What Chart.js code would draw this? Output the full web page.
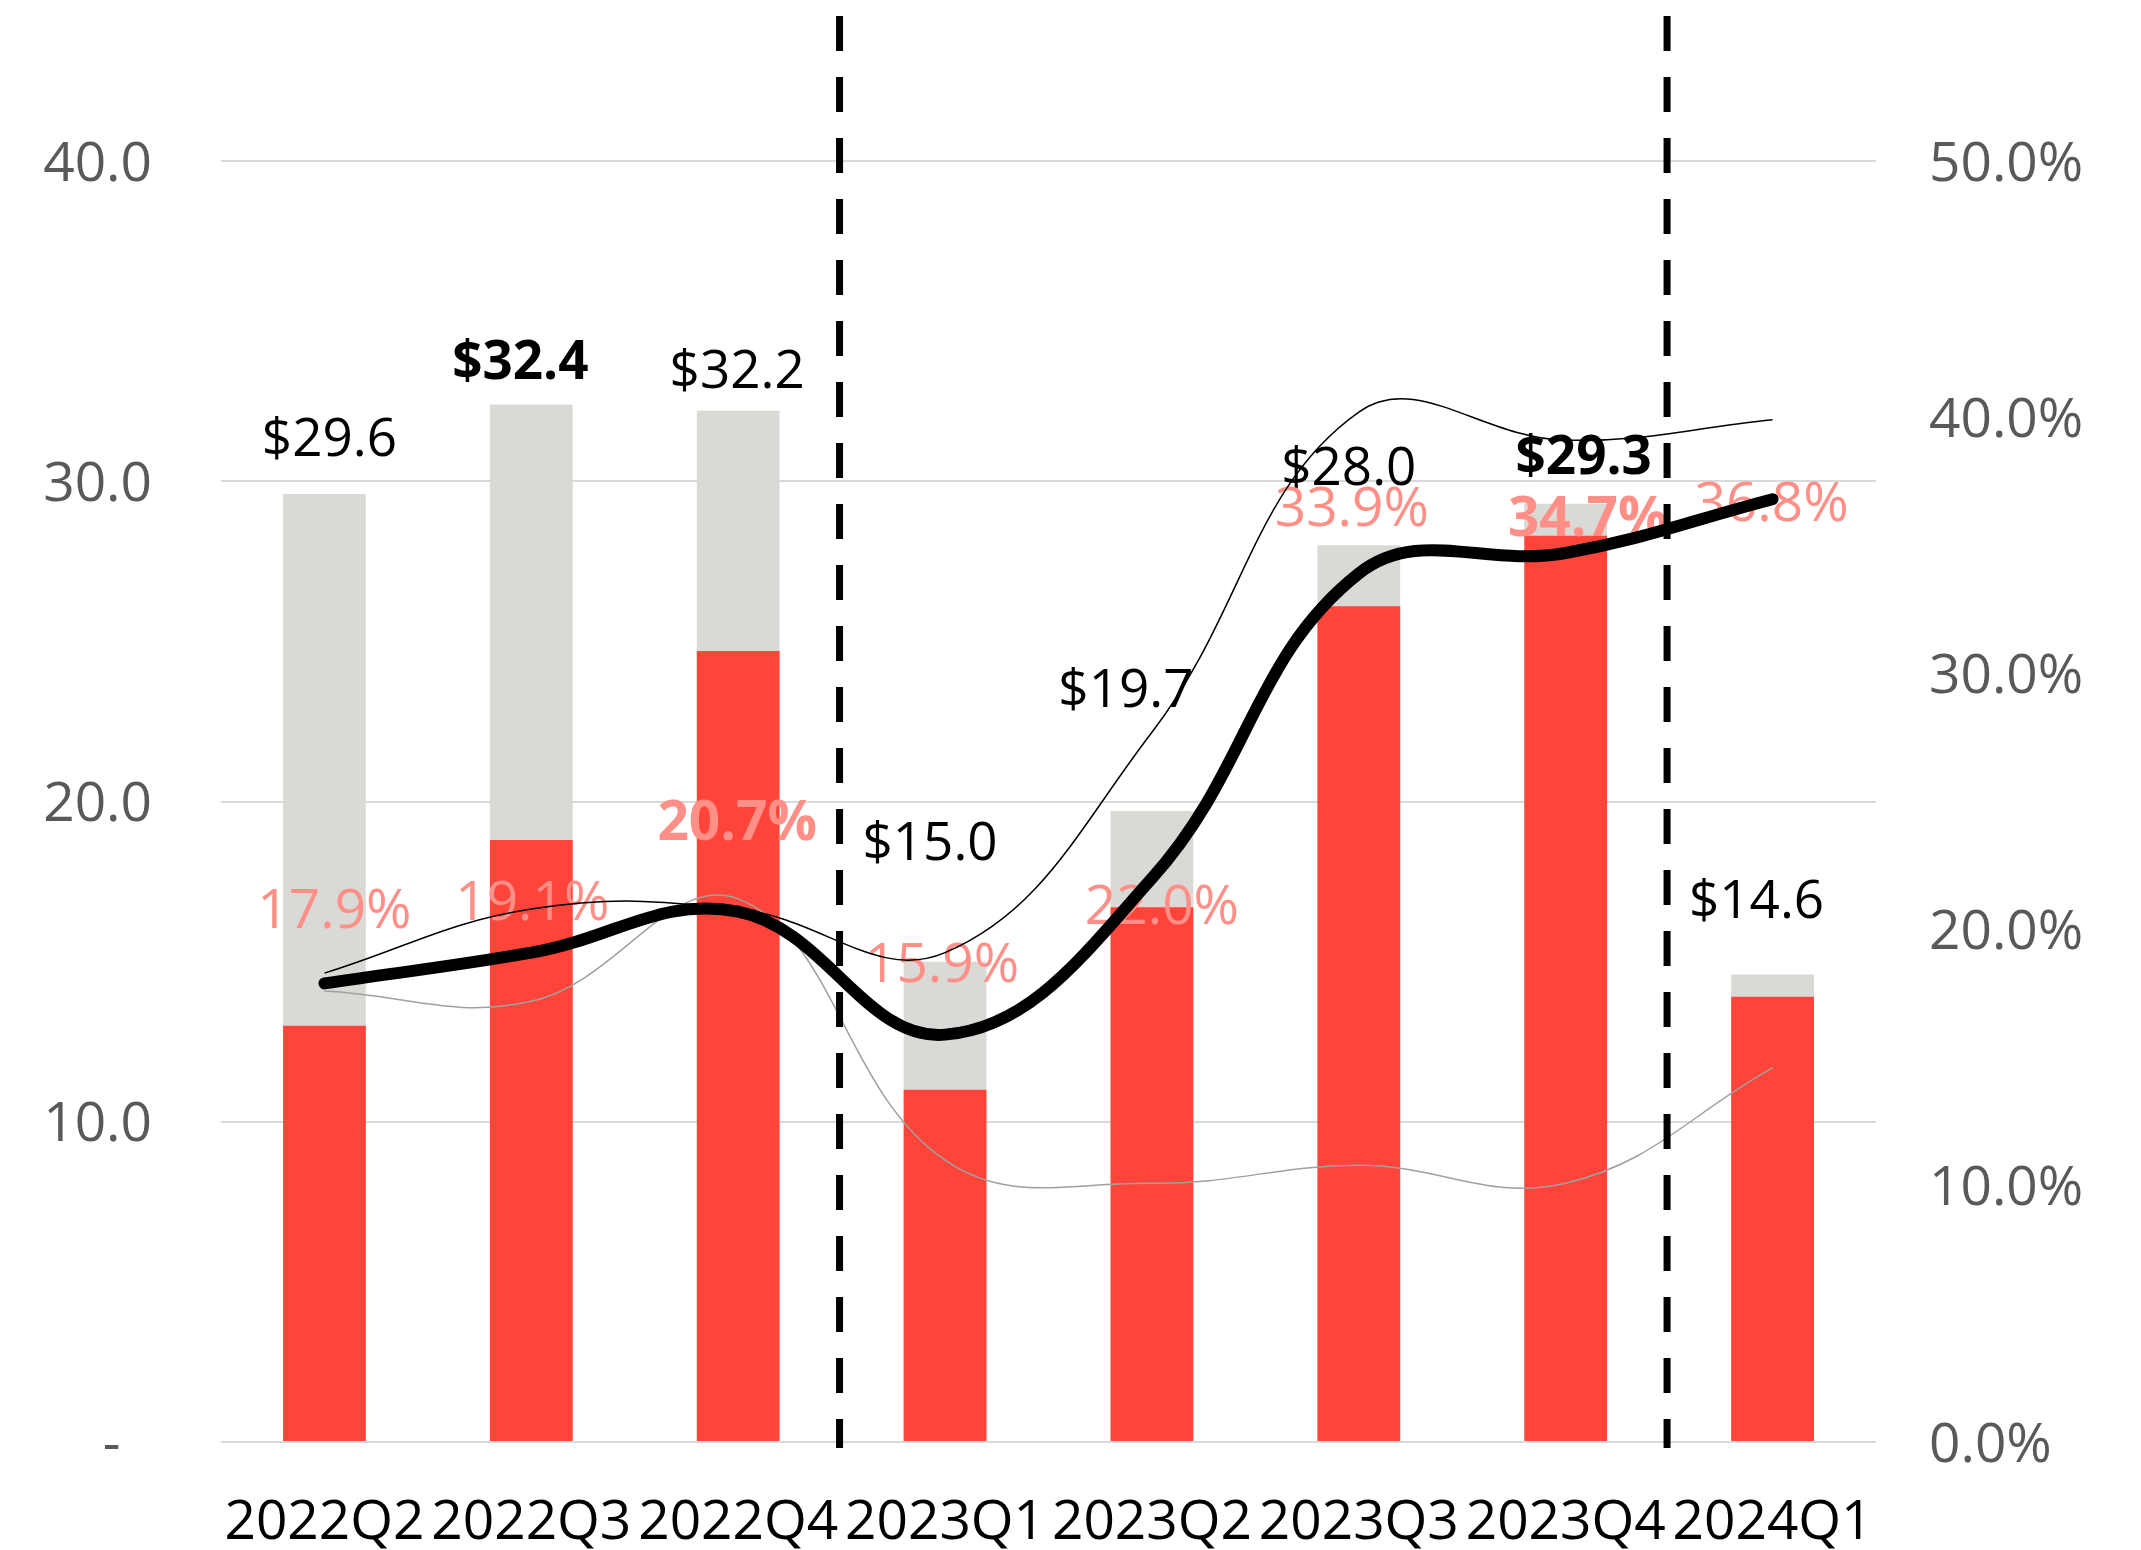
<!DOCTYPE html>
<html>
<head>
<meta charset="utf-8">
<script src="https://cdn.jsdelivr.net/npm/chart.js@4.4.1/dist/chart.umd.min.js"></script>
<style>
  body { margin: 0; background: #fff; }
  canvas { display: block; }
</style>
</head>
<body>
<canvas id="mycanvas" width="2141" height="1550"></canvas>
<script>
var quarters = ["2022Q2", "2022Q3", "2022Q4", "2023Q1", "2023Q2", "2023Q3", "2023Q4", "2024Q1"];
var totalValues = [29.6, 32.4, 32.2, 15.0, 19.7, 28.0, 29.3, 14.6];
var redValues = [13.0, 18.8, 24.7, 11.0, 16.7, 26.1, 28.3, 13.9];
var marginPct = [17.9, 19.1, 20.7, 15.9, 22.0, 33.9, 34.7, 36.8];
var upperPct = [18.3, 20.8, 20.8, 19.1, 27.7, 40.2, 39.1, 39.9];
var lowerPct = [17.6, 17.2, 21.2, 11.0, 10.1, 10.8, 10.1, 14.6];
var leftTicks = [0, 10, 20, 30, 40];
var rightTicks = [0, 10, 20, 30, 40, 50];
var boldValue = [1, 6];
var boldPct = [2, 6];
// quarters after which a dashed divider is drawn
var dividerAfter = ["2022Q4", "2023Q4"];

// label nudges in px (dx, dy) from bar top / line point
var valueShift = [[5,-53],[-11,-40],[-1,-38],[-15,-117],[-26,-119],[-10,-75],[18,-45],[-16,-72]];
var pctShift = [[10,-71],[1,-48],[-1,-87],[-3,-68],[10,30],[-7,-63],[22,-33],[-1,6]];

var FONT = "'Open Sans', 'Noto Sans', sans-serif";

var labelPlugin = {
	id: "labels",
	afterDatasetDraw: function(chart, args){
		if (args.index !== 1) return; // after the red bars, before the lines
		var ctx = chart.ctx;
		var x = chart.scales.x, y = chart.scales.y, y1 = chart.scales.y1;
		ctx.save();
		ctx.textAlign = "center";
		ctx.textBaseline = "middle";
		for (var i = 0; i < quarters.length; i++) {
			var px = x.getPixelForValue(i);
			ctx.fillStyle = "#000000";
			ctx.font = (boldValue.indexOf(i) >= 0 ? "bold " : "") + "53px " + FONT;
			ctx.fillText("$" + totalValues[i].toFixed(1), px + valueShift[i][0], y.getPixelForValue(totalValues[i]) + valueShift[i][1]);
			ctx.fillStyle = "#FF8F87";
			ctx.font = (boldPct.indexOf(i) >= 0 ? "bold " : "") + "55px " + FONT;
			ctx.fillText(marginPct[i].toFixed(1) + "%", px + pctShift[i][0], y1.getPixelForValue(marginPct[i]) + pctShift[i][1]);
		}
		ctx.restore();
	},
	afterDraw: function(chart){
		var ctx = chart.ctx;
		var x = chart.scales.x;
		ctx.save();
		ctx.strokeStyle = "#000000";
		ctx.lineWidth = 7;
		ctx.setLineDash([35, 26]);
		for (var k = 0; k < dividerAfter.length; k++) {
			var i = quarters.indexOf(dividerAfter[k]);
			var a = x.getPixelForValue(i), b = x.getPixelForValue(i + 1);
			var px = a + (b - a) * 0.49;
			ctx.beginPath();
			ctx.moveTo(px, 16);
			ctx.lineTo(px, chart.chartArea.bottom + 6);
			ctx.stroke();
		}
		ctx.restore();
	}
};

var chartdata = {
	labels: quarters,
	datasets: [
		{
			type: "bar",
			label: "Total",
			data: totalValues,
			backgroundColor: "#D9D9D6",
			barPercentage: 0.4,
			categoryPercentage: 1.0,
			grouped: false,
			yAxisID: "y",
			order: 4
		},
		{
			type: "bar",
			label: "Part",
			data: redValues,
			backgroundColor: "#FF453A",
			barPercentage: 0.4,
			categoryPercentage: 1.0,
			grouped: false,
			yAxisID: "y",
			order: 3
		},
		{
			type: "line",
			label: "Lower",
			data: lowerPct,
			borderColor: "#A0A0A0",
			borderWidth: 1.5,
			tension: 0.4,
			pointRadius: 0,
			fill: false,
			yAxisID: "y1",
			order: 2
		},
		{
			type: "line",
			label: "Upper",
			data: upperPct,
			borderColor: "#000000",
			borderWidth: 1.5,
			tension: 0.4,
			pointRadius: 0,
			fill: false,
			yAxisID: "y1",
			order: 1
		},
		{
			type: "line",
			label: "Margin",
			data: marginPct,
			borderColor: "#000000",
			borderWidth: 12,
			borderCapStyle: "round",
			borderJoinStyle: "round",
			tension: 0.4,
			pointRadius: 0,
			fill: false,
			yAxisID: "y1",
			order: 0
		}
	]
};

var ctx = document.getElementById("mycanvas");
var chart = new Chart(ctx, {
	type: "bar",
	data: chartdata,
	plugins: [labelPlugin],
	options: {
		responsive: false,
		animation: false,
		devicePixelRatio: 1,
		layout: { padding: { top: 161, left: 0, right: 0, bottom: 0 } },
		plugins: { legend: { display: false }, tooltip: { enabled: false } },
		scales: {
			x: {
				grid: { display: false, drawTicks: false },
				border: { display: false },
				ticks: { color: "#000000", font: { family: FONT, size: 55 }, padding: 48, maxRotation: 0, autoSkip: false },
				afterFit: function(s){ s.height = 108; }
			},
			y: {
				position: "left",
				min: 0,
				max: 40,
				afterBuildTicks: function(s){ s.ticks = leftTicks.map(function(v){ return { value: v }; }); },
				grid: { color: "#D9D9D9", lineWidth: 2, drawTicks: false },
				border: { display: false },
				ticks: {
					color: "#595959",
					font: { family: FONT, size: 55 },
					padding: 69,
					labelOffset: 4,
					callback: function(v){ return v === 0 ? "-\u2007" : v.toFixed(1); }
				},
				afterFit: function(s){ s.width = 221; }
			},
			y1: {
				position: "right",
				min: 0,
				max: 50,
				afterBuildTicks: function(s){ s.ticks = rightTicks.map(function(v){ return { value: v }; }); },
				grid: { display: false, drawTicks: false },
				border: { display: false },
				ticks: {
					color: "#595959",
					font: { family: FONT, size: 55 },
					padding: 53,
					labelOffset: 4,
					callback: function(v){ return v.toFixed(1) + "%"; }
				},
				afterFit: function(s){ s.width = 265; }
			}
		}
	}
});
</script>
</body>
</html>
